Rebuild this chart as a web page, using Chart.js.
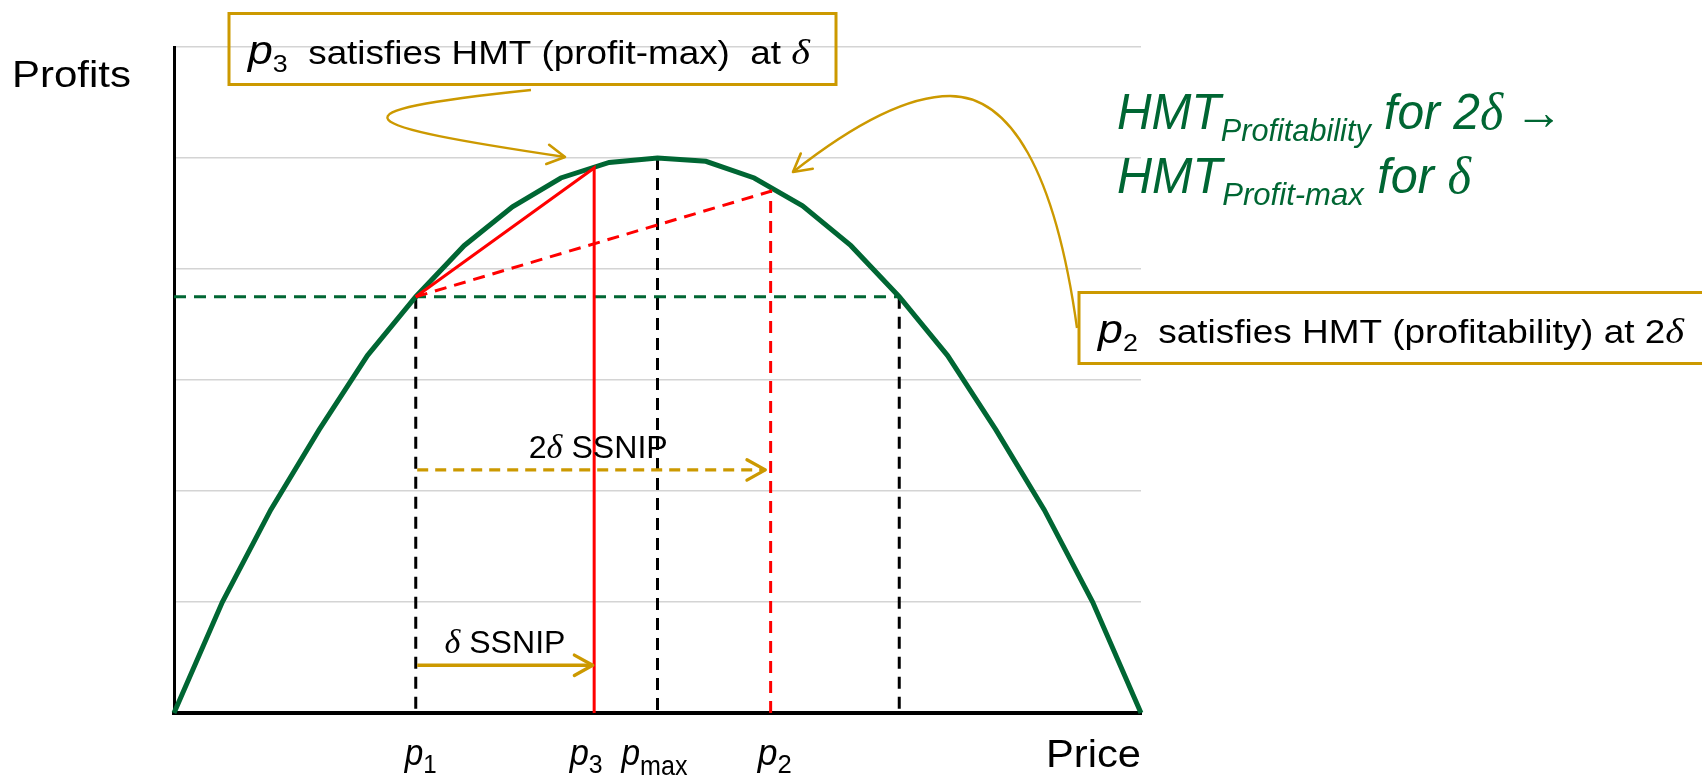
<!DOCTYPE html>
<html>
<head>
<meta charset="utf-8">
<script src="https://cdn.jsdelivr.net/npm/chart.js@4.4.1/dist/chart.umd.min.js"></script>
<style>
  html, body { margin: 0; padding: 0; background: #ffffff; }
  canvas { display: block; }
</style>
</head>
<body>
<canvas id="chart" width="1702" height="778"></canvas>
<script>
// Profit curve sampled on a price grid
const prices  = [0, 1, 2, 3, 4, 5, 6, 7, 8, 9, 10, 11, 12, 13, 14, 15, 16, 17, 18, 19, 20];
const profits = [0, 1.0, 1.83, 2.55, 3.22, 3.75, 4.21, 4.56, 4.82, 4.96, 5.0, 4.97, 4.82, 4.57, 4.21, 3.75, 3.22, 2.55, 1.83, 1.0, 0];

// Named prices on the horizontal axis and the profit earned at each
const markNames   = ['1', '3', 'max', '2'];
const markPrices  = [5, 8.69, 10, 12.34];
const markProfits = [3.75, 4.91, 5.0, 4.70];
const mirrorPrice = 15;   // price above p_max giving the same profit as p1

// SSNIP arrows (price increase from p1)
const ssnipLabels = ['δ SSNIP', '2δ SSNIP'];
const ssnipFrom   = [5.03, 5.03];
const ssnipTo     = [8.66, 12.23];
const ssnipLevel  = [0.43, 2.19];

// Profit gridlines
const profitTicks = [0, 1, 2, 3, 4, 5, 6];

const GREEN = '#006633';
const GOLD  = '#CC9900';
const RED   = '#FF0000';
const SANS  = '"Liberation Sans", Arial, sans-serif';
const SERIF = '"Liberation Serif", "Times New Roman", serif';

const [P1, P3, PMAX, P2] = markPrices;
const [PR1, PR3, PRMAX, PR2] = markProfits;

const pts = (xs, ys) => xs.map((v, i) => ({ x: v, y: ys[i] }));

function line(data, color, width, dash) {
  return {
    data, showLine: true, borderColor: color, backgroundColor: color,
    borderWidth: width, borderDash: dash || [], pointRadius: 0,
    pointHoverRadius: 0, tension: 0, clip: false
  };
}

const datasets = [
  line(pts([P1, P3, P3], [PR1, PR3, 0]), RED, 3),
  line(pts([P1, P2, P2], [PR1, PR2, 0]), RED, 3, [12, 8]),
  line(pts([ssnipFrom[0], ssnipTo[0]], [ssnipLevel[0], ssnipLevel[0]]), GOLD, 3.3),
  line(pts([ssnipFrom[1], ssnipTo[1]], [ssnipLevel[1], ssnipLevel[1]]), GOLD, 3.3, [11, 7]),
  line(pts(prices, profits), GREEN, 5),
  line(pts([0, mirrorPrice], [PR1, PR1]), GREEN, 3, [12, 8]),
  line(pts([P1, P1], [PR1, 0]), '#000000', 3, [12, 8]),
  line(pts([PMAX, PMAX], [PRMAX, 0]), '#000000', 3, [12, 8]),
  line(pts([mirrorPrice, mirrorPrice], [PR1, 0]), '#000000', 3, [12, 8])
];

// Draw a run of text pieces (mixed fonts, subscripts) squeezed to a given width
function richText(ctx, parts, x, baseline, width, color) {
  ctx.save();
  let total = 0;
  parts.forEach(p => { ctx.font = p.font; p.w = ctx.measureText(p.t).width; total += p.w; });
  const sx = width ? width / total : 1;
  ctx.translate(x, baseline);
  ctx.scale(sx, 1);
  ctx.fillStyle = color;
  ctx.textAlign = 'left';
  ctx.textBaseline = 'alphabetic';
  let cx = 0;
  parts.forEach(p => { ctx.font = p.font; ctx.fillText(p.t, cx, p.dy || 0); cx += p.w; });
  ctx.restore();
}

function chevron(ctx, tx, ty, angle, color, len, width) {
  const spread = 29 * Math.PI / 180;
  ctx.save();
  ctx.strokeStyle = color;
  ctx.lineWidth = width;
  ctx.setLineDash([]);
  ctx.lineCap = 'round';
  ctx.lineJoin = 'round';
  ctx.beginPath();
  ctx.moveTo(tx - len * Math.cos(angle - spread), ty - len * Math.sin(angle - spread));
  ctx.lineTo(tx, ty);
  ctx.lineTo(tx - len * Math.cos(angle + spread), ty - len * Math.sin(angle + spread));
  ctx.stroke();
  ctx.restore();
}

const pSub = (sub, big, small, dy) => [
  { t: 'p', font: `italic ${big}px ${SANS}` },
  { t: sub, font: `${small}px ${SANS}`, dy }
];

const annotate = {
  id: 'annotate',
  afterDatasetsDraw(chart) {
    const { ctx, chartArea: a, scales: { x, y } } = chart;

    // SSNIP arrowheads and captions
    const labelShift = [0, 7];
    ssnipLabels.forEach((lab, i) => {
      const yPix = y.getPixelForValue(ssnipLevel[i]);
      const x0 = x.getPixelForValue(ssnipFrom[i]);
      const x1 = x.getPixelForValue(ssnipTo[i]);
      chevron(ctx, x1, yPix, 0, GOLD, 21, 3.3);
      const parts = [];
      const [num, rest] = lab.split('δ');
      if (num) parts.push({ t: num, font: `32px ${SANS}` });
      parts.push({ t: 'δ', font: `italic 34px ${SERIF}` });
      parts.push({ t: rest, font: `32px ${SANS}` });
      const w = i === 0 ? 121 : 139;
      richText(ctx, parts, (x0 + x1) / 2 + labelShift[i] - w / 2, yPix - 12, w, '#000');
    });

    // Price labels under the axis
    const tickShift = [5, -8, -3, 4];
    const tickWidth = [32, 33, 66, 34];
    markNames.forEach((n, i) => {
      const cx = x.getPixelForValue(markPrices[i]) + tickShift[i];
      const small = n === 'max' ? 27 : 26;
      const dy = n === 'max' ? 10 : 8;
      richText(ctx, pSub(n, 36, small, dy), cx - tickWidth[i] / 2, a.bottom + 52, tickWidth[i], '#000');
    });

    // Axis titles
    richText(ctx, [{ t: 'Profits', font: `37px ${SANS}` }], 12, a.top + 40, 119, '#000');
    richText(ctx, [{ t: 'Price', font: `38px ${SANS}` }], a.right - 95, a.bottom + 54, 95, '#000');

    // Callout boxes
    ctx.save();
    ctx.strokeStyle = GOLD;
    ctx.lineWidth = 3;
    ctx.setLineDash([]);
    ctx.strokeRect(229, 13.5, 607, 71);
    ctx.strokeRect(1079, 292.5, 640, 71);
    ctx.restore();

    richText(ctx, [...pSub('3', 40, 24, 8),
      { t: '  satisfies HMT (profit-max)  at ', font: `33px ${SANS}` },
      { t: 'δ', font: `italic 36px ${SERIF}` }], 248, 63.5, 562, '#000');

    richText(ctx, [...pSub('2', 40, 24, 8),
      { t: '  satisfies HMT (profitability) at 2', font: `33px ${SANS}` },
      { t: 'δ', font: `italic 36px ${SERIF}` }], 1098, 343, 586, '#000');

    // Green statement
    richText(ctx, [
      { t: 'HMT', font: `italic 50px ${SANS}` },
      { t: 'Profitability', font: `italic 32px ${SANS}`, dy: 12 },
      { t: ' for 2', font: `italic 50px ${SANS}` },
      { t: 'δ', font: `italic 52px ${SERIF}` },
      { t: ' →', font: `50px ${SERIF}` }], 1117, 129, 446, GREEN);
    richText(ctx, [
      { t: 'HMT', font: `italic 50px ${SANS}` },
      { t: 'Profit-max', font: `italic 32px ${SANS}`, dy: 12 },
      { t: ' for ', font: `italic 50px ${SANS}` },
      { t: 'δ', font: `italic 52px ${SERIF}` }], 1117, 193, 354, GREEN);

    // Curved connectors from the callouts
    ctx.save();
    ctx.strokeStyle = GOLD;
    ctx.lineWidth = 2.4;
    ctx.setLineDash([]);
    ctx.beginPath();
    ctx.moveTo(531, 90);
    ctx.bezierCurveTo(320, 112, 350, 125, 565, 157);
    ctx.stroke();
    ctx.beginPath();
    ctx.moveTo(1077, 328);
    ctx.bezierCurveTo(1055, 170, 1010, 96, 950, 96);
    ctx.bezierCurveTo(900, 96, 840, 135, 793, 172);
    ctx.stroke();
    ctx.restore();
    chevron(ctx, 565, 157, Math.atan2(157 - 125, 565 - 350), GOLD, 20, 2.6);
    chevron(ctx, 793, 172, Math.atan2(172 - 135, 793 - 840), GOLD, 20, 2.6);
  }
};

new Chart(document.getElementById('chart'), {
  type: 'scatter',
  data: { datasets },
  options: {
    responsive: false,
    maintainAspectRatio: false,
    animation: false,
    devicePixelRatio: 1,
    layout: { autoPadding: false, padding: { left: 174, right: 561, top: 47, bottom: 65 } },
    plugins: { legend: { display: false }, tooltip: { enabled: false } },
    events: [],
    scales: {
      x: {
        type: 'linear', min: prices[0], max: prices[prices.length - 1],
        ticks: { display: false },
        grid: { display: false, drawTicks: false },
        border: { display: true, color: '#000000', width: 4 },
        afterFit: s => { s.height = 0; }
      },
      y: {
        type: 'linear', min: profitTicks[0], max: profitTicks[profitTicks.length - 1],
        afterBuildTicks: s => { s.ticks = profitTicks.map(v => ({ value: v })); },
        ticks: { display: false },
        grid: { display: true, drawTicks: false, color: '#d4d4d4', lineWidth: 1.6 },
        border: { display: true, color: '#000000', width: 3 },
        afterFit: s => { s.width = 0; }
      }
    }
  },
  plugins: [annotate]
});
</script>
</body>
</html>
